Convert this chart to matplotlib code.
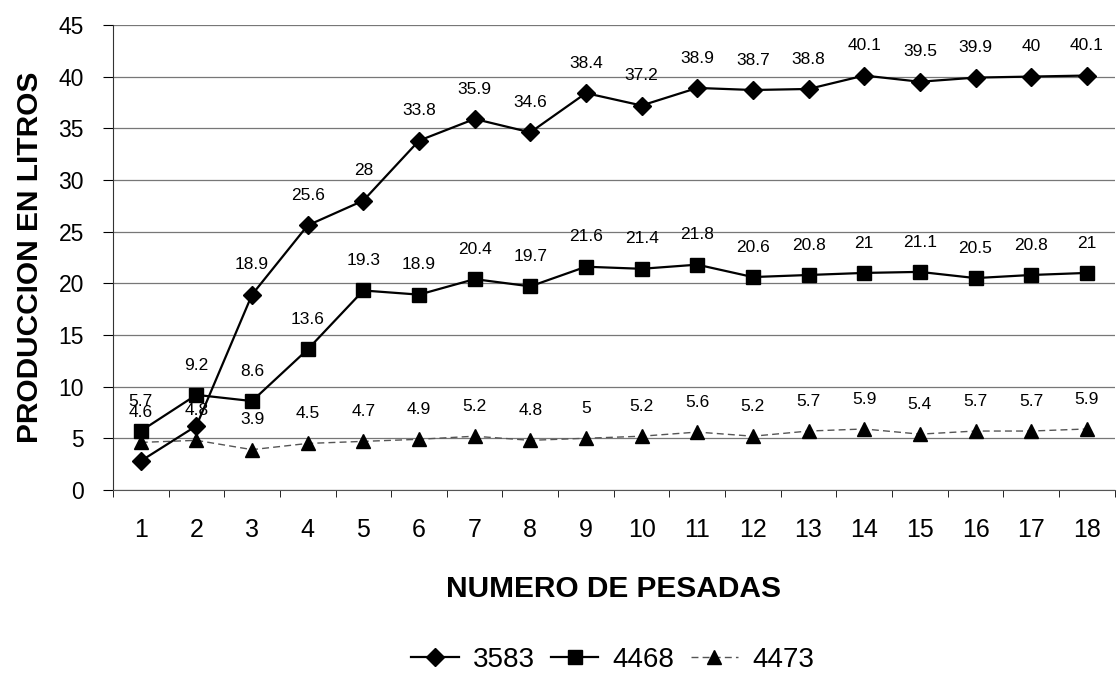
import matplotlib.pyplot as plt

plt.rcParams['font.family'] = ['Liberation Sans', 'DejaVu Sans']

# ========== 数据 ==========
pesadas = list(range(1, 19))
s3583 = [2.8, 6.2, 18.9, 25.6, 28, 33.8, 35.9, 34.6, 38.4, 37.2, 38.9, 38.7, 38.8, 40.1, 39.5, 39.9, 40, 40.1]
s4468 = [5.7, 9.2, 8.6, 13.6, 19.3, 18.9, 20.4, 19.7, 21.6, 21.4, 21.8, 20.6, 20.8, 21, 21.1, 20.5, 20.8, 21]
s4473 = [4.6, 4.8, 3.9, 4.5, 4.7, 4.9, 5.2, 4.8, 5, 5.2, 5.6, 5.2, 5.7, 5.9, 5.4, 5.7, 5.7, 5.9]
# 3583 的前两个标签在原图中被遮住
hide_3583 = [1, 2]

fig = plt.figure(figsize=(11.18, 6.73), dpi=100)
ax = fig.add_axes([0.101, 0.272, 0.896, 0.691])

ax.plot(pesadas, s3583, color='black', lw=1.6, marker='D', ms=9, label='3583', zorder=4)
ax.plot(pesadas, s4468, color='black', lw=1.6, marker='s', ms=10, label='4468', zorder=3)
ax.plot(pesadas, s4473, color='#555555', lw=1.0, ls=(0, (5, 3)), marker='^', ms=10,
        mfc='black', mec='black', label='4473', zorder=3)

def fmt(v):
    return '{:g}'.format(v)

# ========== 数据标签 ==========
for serie, hide in [(s3583, hide_3583), (s4468, []), (s4473, [])]:
    for x, y in zip(pesadas, serie):
        if x in hide:
            continue
        ax.annotate(fmt(y), (x, y), xytext=(0, 21.5), textcoords='offset points',
                    ha='center', va='center', fontsize=12.5)

ax.set_xlim(0.5, 18.5)
ax.set_ylim(0, 45)
ax.set_yticks(range(0, 46, 5))
ax.set_xticks(pesadas)
ax.set_xticks([i + 0.5 for i in range(0, 19)], minor=True)
ax.tick_params(axis='x', which='major', length=0, pad=20, labelsize=18)
ax.tick_params(axis='x', which='minor', length=5, direction='out')
ax.tick_params(axis='y', length=7, labelsize=16.5, pad=14)
ax.grid(axis='y', color='#777777', lw=0.9)
ax.set_axisbelow(True)
for s in ['top', 'right']:
    ax.spines[s].set_visible(False)
ax.spines['left'].set_color('#333333')
ax.spines['bottom'].set_color('#555555')

ax.set_ylabel('PRODUCCION EN LITROS', fontsize=21.5, fontweight='bold', labelpad=10)
ax.set_xlabel('NUMERO DE PESADAS', fontsize=21.5, fontweight='bold', labelpad=24)

fig.legend(loc='center', bbox_to_anchor=(0.548, 0.02), ncol=3, frameon=False,
           fontsize=20, handlelength=1.7, handletextpad=0.5, columnspacing=0.6)

plt.savefig('out.png', dpi=100)
